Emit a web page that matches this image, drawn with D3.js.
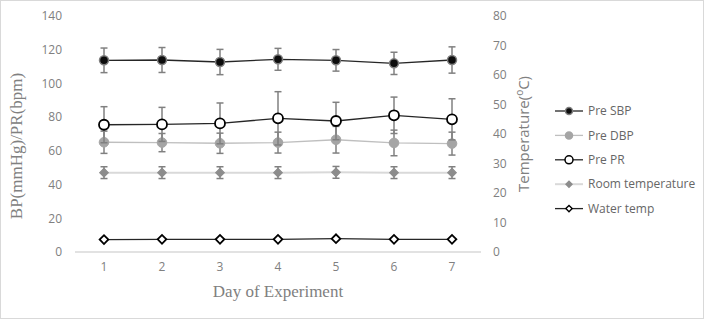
<!DOCTYPE html>
<html><head><meta charset="utf-8">
<script src="https://cdn.jsdelivr.net/npm/d3@7/dist/d3.min.js"></script>
<style>body{margin:0;background:#fff}svg{display:block}</style>
</head><body>
<svg id="c" width="704" height="319"></svg>
<script>
const days = [1,2,3,4,5,6,7];
const leftTicks = [0,20,40,60,80,100,120,140];
const rightTicks = [0,10,20,30,40,50,60,70,80];
const preSBP = [113.7,113.9,112.7,114.3,113.7,111.9,113.9];
const preSBPErr = [7.3,7.4,7.5,6.5,6.4,6.6,7.8];
const preDBP = [65.1,64.9,64.5,64.9,66.6,64.7,64.3];
const preDBPErr = [6.6,5.4,6.0,6.2,7.9,7.6,6.8];
const prePR = [75.5,75.7,76.3,79.3,77.7,81.1,78.7];
const prePRErr = [10.7,10.1,12.1,15.8,11.1,10.8,12.2];
const roomTemp = [26.9,26.9,26.9,26.9,27.0,26.9,26.9];
const roomTempErr = [2.0,2.0,2.0,2.0,2.0,2.0,2.0];
const waterTemp = [4.2,4.3,4.3,4.3,4.5,4.3,4.3];

const svg = d3.select("#c");
svg.append("rect").attr("x",0.5).attr("y",0.5).attr("width",703).attr("height",318)
  .attr("fill","#fff").attr("stroke","#d9d9d9");

const x = d3.scaleBand().domain(days).range([75,481]);
const cx = d => x(d) + x.bandwidth()/2;
const yL = d3.scaleLinear().domain([0,140]).range([252,16]);
const yR = d3.scaleLinear().domain([0,80]).range([252,16]);

const tickFont = "Open Sans, sans-serif";
const gray = "#808080";

svg.append("line").attr("x1",75).attr("x2",481).attr("y1",yL(0)).attr("y2",yL(0))
  .attr("stroke","#d9d9d9").attr("stroke-width",1.3);

const gl = svg.append("g").attr("transform","translate(70,0)")
  .call(d3.axisLeft(yL).tickValues(leftTicks).tickSize(0).tickPadding(8));
gl.select(".domain").remove();
gl.selectAll("text").attr("font-family",tickFont).attr("font-size",12).attr("fill",gray);

const gr = svg.append("g").attr("transform","translate(485,0)")
  .call(d3.axisRight(yR).tickValues(rightTicks).tickSize(0).tickPadding(8));
gr.select(".domain").remove();
gr.selectAll("text").attr("font-family",tickFont).attr("font-size",12).attr("fill",gray);

const gx = svg.append("g").attr("transform","translate(0,252)")
  .call(d3.axisBottom(x).tickSize(0).tickPadding(10));
gx.select(".domain").remove();
gx.selectAll("text").attr("font-family",tickFont).attr("font-size",12).attr("fill",gray);

svg.append("text").attr("transform","translate(22,146) rotate(-90)").attr("text-anchor","middle")
  .attr("font-family","Liberation Serif, serif").attr("font-size",17).attr("fill",gray)
  .text("BP(mmHg)/PR(bpm)");
svg.append("text").attr("x",278).attr("y",297).attr("text-anchor","middle")
  .attr("font-family","Liberation Serif, serif").attr("font-size",17).attr("fill",gray)
  .text("Day of Experiment");
const rt = svg.append("text").attr("transform","translate(529,134) rotate(-90)").attr("text-anchor","middle")
  .attr("font-family",tickFont).attr("font-size",15).attr("fill",gray);
rt.append("tspan").text("Temperature(");
rt.append("tspan").attr("font-size",10).attr("dy",-6).text("o");
rt.append("tspan").attr("dy",6).text("C)");

function errBars(vals, errs, y, color){
  const g = svg.append("g").attr("stroke",color).attr("stroke-width",1.5).attr("fill","none");
  days.forEach((d,i)=>{
    const X = cx(d), t = y(vals[i]+errs[i]), b = y(vals[i]-errs[i]);
    g.append("line").attr("x1",X).attr("x2",X).attr("y1",t).attr("y2",b);
    g.append("line").attr("x1",X-3.5).attr("x2",X+3.5).attr("y1",t).attr("y2",t);
    g.append("line").attr("x1",X-3.5).attr("x2",X+3.5).attr("y1",b).attr("y2",b);
  });
}
function seriesLine(vals, y, color, w){
  svg.append("path").datum(vals).attr("fill","none").attr("stroke",color).attr("stroke-width",w)
    .attr("d", d3.line().x((v,i)=>cx(days[i])).y(v=>y(v)));
}
function circles(vals, y, r, fill, stroke, sw){
  svg.append("g").selectAll("circle").data(vals).join("circle")
    .attr("cx",(v,i)=>cx(days[i])).attr("cy",v=>y(v)).attr("r",r)
    .attr("fill",fill).attr("stroke",stroke).attr("stroke-width",sw);
}
function diamonds(vals, y, size, fill, stroke, sw){
  svg.append("g").selectAll("path").data(vals).join("path")
    .attr("d", d3.symbol().type(d3.symbolSquare).size(size)())
    .attr("transform",(v,i)=>`translate(${cx(days[i])},${y(v)}) rotate(45)`)
    .attr("fill",fill).attr("stroke",stroke).attr("stroke-width",sw);
}

seriesLine(roomTemp, yR, "#d9d9d9", 2);
errBars(roomTemp, roomTempErr, yR, gray);
diamonds(roomTemp, yR, 38, "#8c8c8c", "#8c8c8c", 1);
seriesLine(waterTemp, yR, "#262626", 1.3);
diamonds(waterTemp, yR, 38, "#fff", "#000", 1.8);
seriesLine(preDBP, yL, "#bfbfbf", 1.3);
errBars(preDBP, preDBPErr, yL, gray);
circles(preDBP, yL, 4.8, "#a5a5a5", "#a5a5a5", 1);
seriesLine(prePR, yL, "#262626", 1.3);
errBars(prePR, prePRErr, yL, gray);
circles(prePR, yL, 5, "#fff", "#000", 1.8);
seriesLine(preSBP, yL, "#262626", 1.3);
errBars(preSBP, preSBPErr, yL, gray);
circles(preSBP, yL, 4.5, "#0d0d0d", "#7f7f7f", 1.5);

const legend = [
  {name:"Pre SBP", line:"#262626", type:"c", fill:"#0d0d0d", stroke:"#7f7f7f", r:3.5},
  {name:"Pre DBP", line:"#bfbfbf", type:"c", fill:"#a5a5a5", stroke:"#a5a5a5", r:3.5},
  {name:"Pre PR", line:"#262626", type:"c", fill:"#fff", stroke:"#000", r:4},
  {name:"Room temperature", line:"#d9d9d9", type:"d", fill:"#8c8c8c", stroke:"#8c8c8c", s:18},
  {name:"Water temp", line:"#262626", type:"d", fill:"#fff", stroke:"#000", s:20}
];
const lg = svg.append("g");
legend.forEach((L,i)=>{
  const yy = 111 + i*24.4;
  lg.append("line").attr("x1",555).attr("x2",583).attr("y1",yy).attr("y2",yy)
    .attr("stroke",L.line).attr("stroke-width",L.line==="#d9d9d9"?2:1.3);
  if(L.type==="c"){
    lg.append("circle").attr("cx",569).attr("cy",yy).attr("r",L.r)
      .attr("fill",L.fill).attr("stroke",L.stroke).attr("stroke-width",1.5);
  } else {
    lg.append("path").attr("d",d3.symbol().type(d3.symbolSquare).size(L.s)())
      .attr("transform",`translate(569,${yy}) rotate(45)`)
      .attr("fill",L.fill).attr("stroke",L.stroke).attr("stroke-width",1.4);
  }
  lg.append("text").attr("x",588).attr("y",yy).attr("dy","0.35em")
    .attr("font-family",tickFont).attr("font-size",12).attr("fill","#666").text(L.name);
});
</script>
</body></html>
